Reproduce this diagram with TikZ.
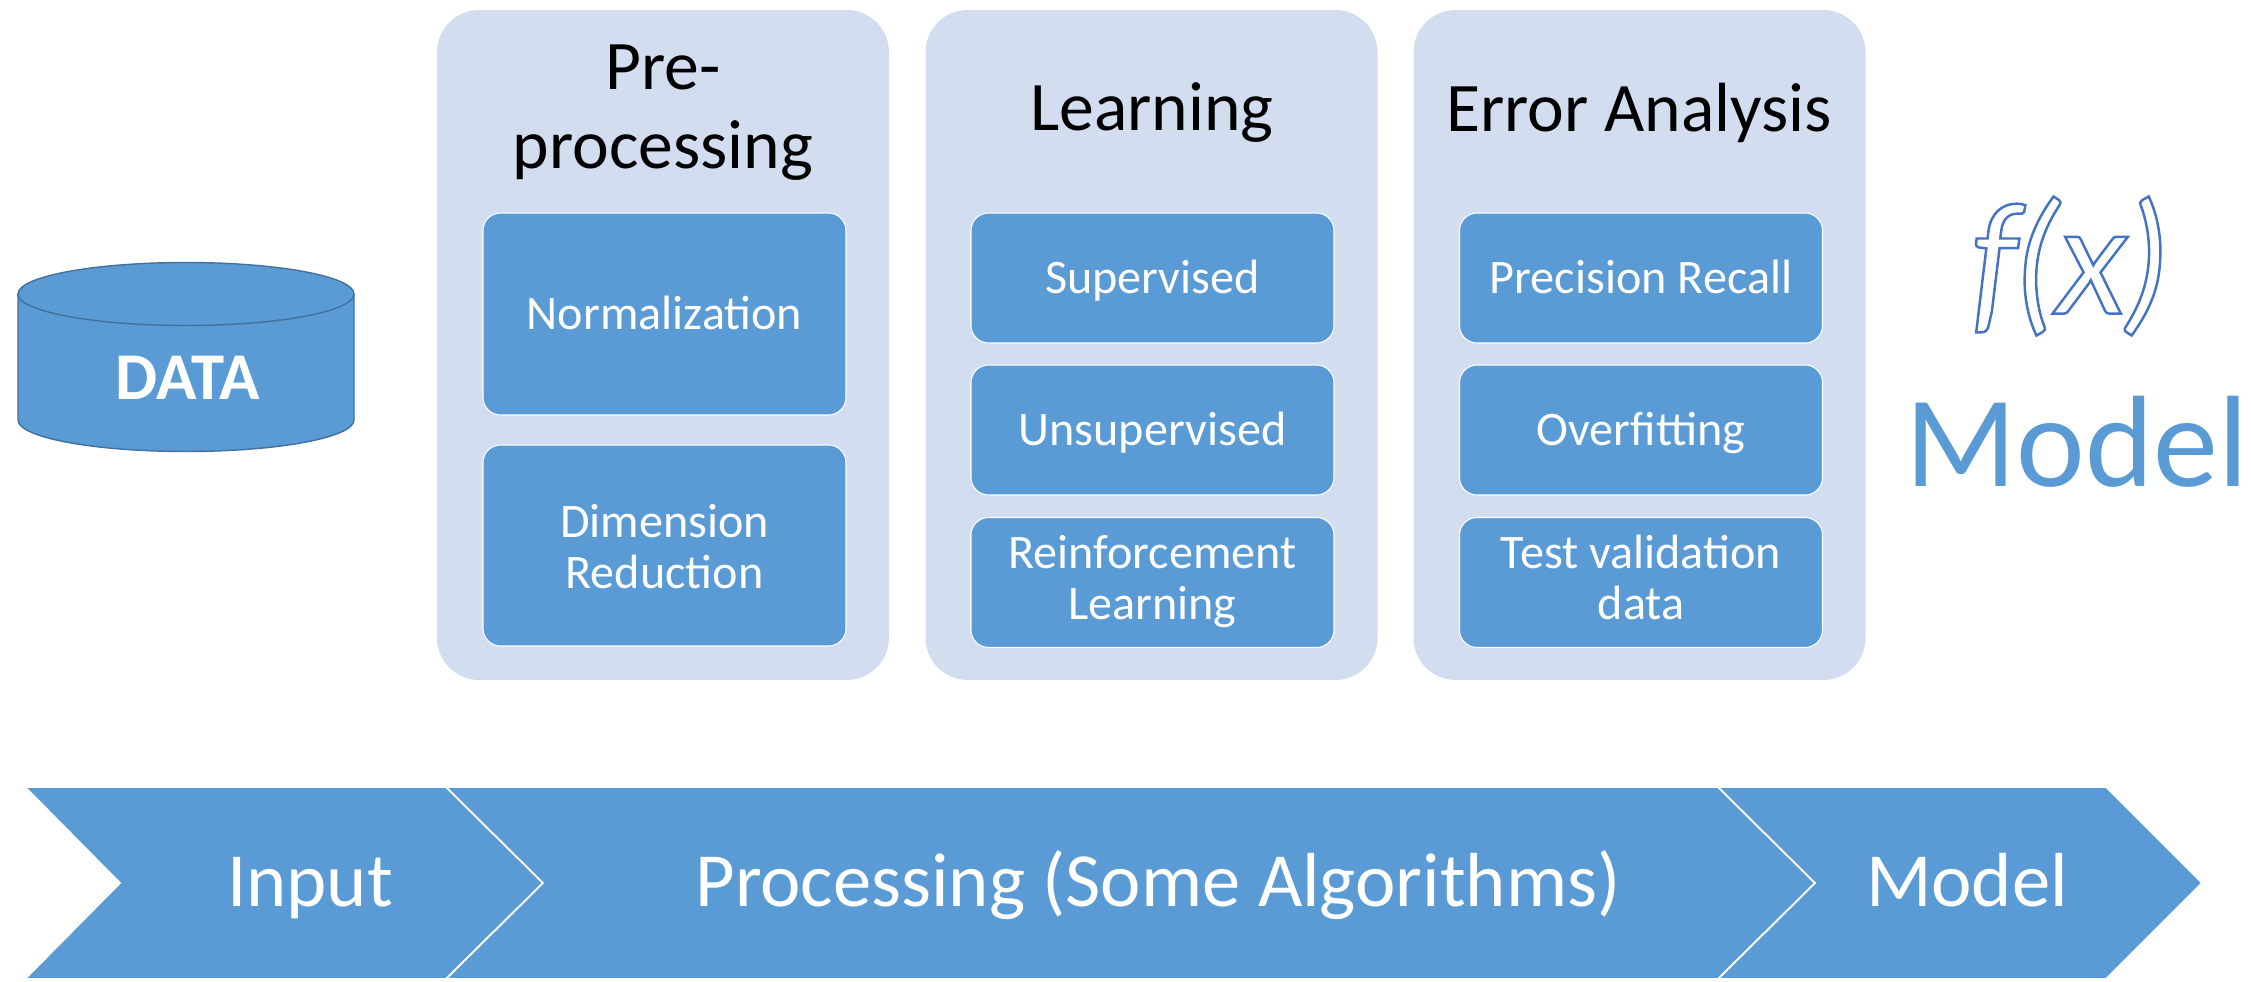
\documentclass[tikz,border=0pt]{standalone}
\usepackage{fontspec}
\setmainfont{Carlito}
\newfontfamily\inkfont{Lato}
\usepackage{xcolor}
\usetikzlibrary{positioning}
\definecolor{stepblue}{RGB}{91,155,213}
\definecolor{edgeblue}{RGB}{65,113,156}
\definecolor{panelblue}{RGB}{210,222,239}
\definecolor{inkblue}{RGB}{68,114,196}
\tikzset{
    % Panel and box styles
    panel/.style={
        rectangle, fill=panelblue, minimum width=4.52cm, minimum height=6.7cm,
        rounded corners=12pt
    },
    innerbox/.style={
        rectangle, draw=white, line width=0.3pt, fill=stepblue, text=white,
        align=center, font=\fontsize{13.7}{14.5}\selectfont,
        minimum width=3.63cm, rounded corners=5pt, inner sep=0pt
    },
    oneline/.style={
        text height=11pt, text depth=2.3pt
    },
    twoline/.style={
        text height=23.6pt, text depth=2.3pt
    },
    heading/.style={
        align=center, font=\fontsize{19.8}{22.5}\selectfont
    },
    chevron/.style={
        fill=stepblue, draw=white, line width=0.5pt, line join=miter
    },
    steplabel/.style={
        anchor=base, text=white, font=\fontsize{21.8}{24}\selectfont, inner sep=0pt
    }
}
\begin{document}
\begin{tikzpicture}
\useasboundingbox (0,0) rectangle (22.51,9.81);

% Data store
\draw[fill=stepblue, draw=edgeblue, line width=0.4pt] (0.18,6.87) -- (0.18,5.61)
    arc[start angle=180, end angle=360, x radius=1.68cm, y radius=0.315cm] -- (3.54,6.87);
\draw[fill=stepblue, draw=edgeblue, line width=0.4pt] (1.86,6.87) ellipse[x radius=1.68cm, y radius=0.315cm];
\node[text=white, font=\fontsize{19}{22}\selectfont\bfseries] (data) at (1.88,6.03) {DATA};

% Pre-processing panel
\node[panel] (prepanel) at (6.63,6.36) {};
\node[heading] (pretitle) at (6.63,8.68) {Pre-\\processing};
\node[innerbox, oneline, minimum height=2.02cm] (norm) at (6.645,6.67) {Normalization};
\node[innerbox, twoline, text height=26.8pt, minimum height=2.01cm] (dimred) at (6.645,4.355) {Dimension\\Reduction};

% Learning panel
\node[panel] (learnpanel) at (11.515,6.36) {};
\node[heading] (learntitle) at (11.52,8.68) {Learning};
\node[innerbox, oneline, minimum height=1.3cm] (superv) at (11.525,7.03) {Supervised};
\node[innerbox, oneline, minimum height=1.3cm] (unsuperv) at (11.525,5.51) {Unsupervised};
\node[innerbox, twoline, minimum height=1.3cm] (reinf) at (11.525,3.985) {Reinforcement\\Learning};

% Error analysis panel
\node[panel] (errpanel) at (16.395,6.36) {};
\node[heading] (errtitle) at (16.39,8.68) {Error Analysis};
\node[innerbox, oneline, minimum height=1.3cm] (precrec) at (16.41,7.03) {Precision Recall};
\node[innerbox, oneline, minimum height=1.3cm] (overfit) at (16.41,5.51) {Overfitting};
\node[innerbox, twoline, minimum height=1.3cm] (testval) at (16.41,3.985) {Test validation\\data};

% Result
\node[text=inkblue, inner sep=0pt, font=\fontsize{43}{46}\selectfont\inkfont\itshape] (fx) at (20.68,7.15) {\special{pdf:code 1 Tr 0.7 w}f(x)\special{pdf:code 0 Tr}};
\node[anchor=base, text=stepblue, inner sep=0pt, font=\fontsize{37}{40}\selectfont] (model) at (20.77,4.94) {Model};

% Bottom chevrons
\draw[chevron] (0.25,1.94) -- (4.46,1.94) -- (5.43,0.98) -- (4.46,0.02) -- (0.25,0.02) -- (1.20,0.98) -- cycle;
\draw[chevron] (4.46,1.94) -- (17.18,1.94) -- (18.15,0.98) -- (17.18,0.02) -- (4.46,0.02) -- (5.43,0.98) -- cycle;
\draw[chevron] (17.18,1.94) -- (21.06,1.94) -- (22.02,0.98) -- (21.06,0.02) -- (17.18,0.02) -- (18.15,0.98) -- cycle;
\node[steplabel] (input) at (3.10,0.75) {Input};
\node[steplabel] (processing) at (11.58,0.75) {Processing (Some Algorithms)};
\node[steplabel] (modelstep) at (19.67,0.75) {Model};

\end{tikzpicture}
\end{document}
